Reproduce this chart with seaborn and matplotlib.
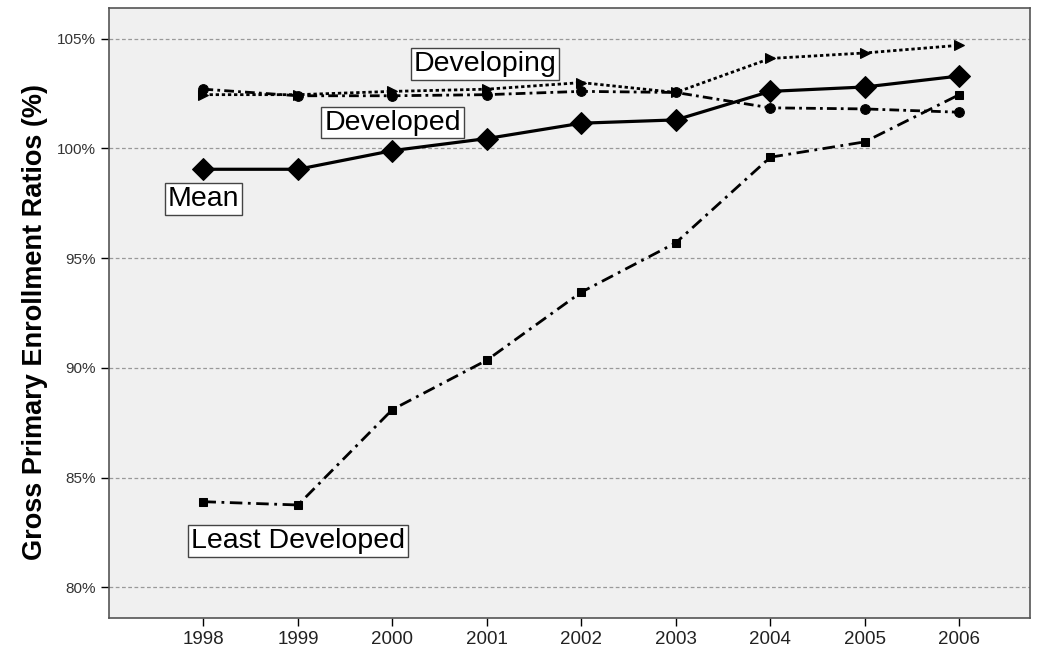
import numpy as np
import pandas as pd
import matplotlib
matplotlib.use("Agg")
import matplotlib.pyplot as plt
import seaborn as sns

# Values
years = [1998, 1999, 2000, 2001, 2002, 2003, 2004, 2005, 2006]
mean_vals = [99.05, 99.05, 99.9, 100.45, 101.15, 101.3, 102.6, 102.8, 103.3]
developing_vals = [102.45, 102.45, 102.6, 102.7, 103.0, 102.55, 104.1, 104.35, 104.7]
developed_vals = [102.7, 102.4, 102.4, 102.45, 102.6, 102.55, 101.85, 101.8, 101.65]
least_vals = [83.9, 83.75, 88.1, 90.35, 93.45, 95.7, 99.6, 100.3, 102.45]
y_ticks = [80, 85, 90, 95, 100, 105]

df = pd.DataFrame({
    "year": years * 4,
    "ratio": mean_vals + developing_vals + developed_vals + least_vals,
    "group": ["Mean"] * 9 + ["Developing"] * 9 + ["Developed"] * 9 + ["Least Developed"] * 9,
})

sns.set_style("white")
plt.rcParams["font.family"] = ["Liberation Sans", "DejaVu Sans"]
plt.rcParams["text.color"] = "black"
plt.rcParams["axes.labelcolor"] = "black"

fig = plt.figure(figsize=(10.42, 6.55), dpi=100)
ax = fig.add_axes([0.1046, 0.0565, 0.884, 0.9313])
ax.set_facecolor("#f0f0f0")

styles = {
    "Developing": dict(marker=">", markersize=7, linewidth=2.0, dashes=(1.2, 1.0)),
    "Developed": dict(marker="o", markersize=7, linewidth=2.0, dashes=(3.5, 1.5, 1.0, 1.5)),
    "Least Developed": dict(marker="s", markersize=6, linewidth=2.0, dashes=(4.5, 2.0, 1.0, 2.0)),
    "Mean": dict(marker="D", markersize=11, linewidth=2.3, dashes=(None, None)),
}
for name, st in styles.items():
    sub = df[df["group"] == name]
    sns.lineplot(data=sub, x="year", y="ratio", ax=ax, color="black",
                 marker=st["marker"], markersize=st["markersize"],
                 markeredgecolor="black", linewidth=st["linewidth"],
                 zorder=3 if name == "Mean" else 2)
    line = ax.get_lines()[-1]
    if st["dashes"][0] is not None:
        line.set_dashes(st["dashes"])

ax.set_xlim(1997.0, 2006.75)
ax.set_ylim(78.6, 106.4)
ax.set_xticks(years)
ax.set_yticks(y_ticks)
ax.set_yticklabels([f"{v}%" for v in y_ticks], color="#333333", fontsize=11)
ax.set_xticklabels([str(y) for y in years], fontsize=13.5, color="#222222")
ax.yaxis.grid(True, linestyle=(0, (3, 2)), color="#999999", linewidth=0.9)
ax.tick_params(axis="both", direction="out", length=6, width=1, color="black",
               bottom=True, left=True)
for s in ax.spines.values():
    s.set_color("#555555")
    s.set_linewidth(1.2)

ax.set_xlabel("")
ax.set_ylabel("Gross Primary Enrollment Ratios (%)", fontsize=19.5,
              fontweight="bold", labelpad=6, y=0.485)

box = dict(boxstyle="square,pad=0.1", facecolor="white", edgecolor="#444444", linewidth=1)
labels = [("Developing", 2000.98, 103.86), ("Developed", 2000.0, 101.18),
          ("Mean", 1998.0, 97.68), ("Least Developed", 1999.0, 82.1)]
for txt, x, y in labels:
    ax.text(x, y, txt, ha="center", va="center", fontsize=20.5, color="black",
            bbox=box, zorder=5)

fig.savefig("out.png", dpi=100)
